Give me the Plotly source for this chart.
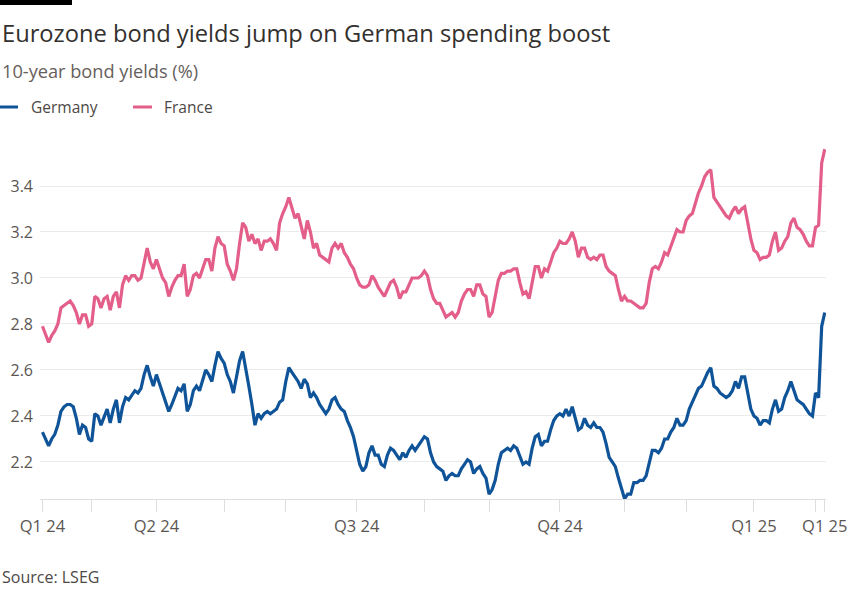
import pandas as pd
import plotly.graph_objects as go

# ---- data ------------------------------------------------------------
START = "2024-03-07"
END = "2025-03-06"
HOLIDAYS = ["2024-03-29", "2024-04-01", "2024-05-01",
            "2024-12-25", "2024-12-26", "2025-01-01"]

germany = [
    2.33, 2.30, 2.27, 2.30, 2.32, 2.36, 2.42, 2.44, 2.45, 2.45,
    2.44, 2.39, 2.32, 2.36, 2.35, 2.30, 2.29, 2.41, 2.40, 2.36,
    2.40, 2.43, 2.37, 2.43, 2.47, 2.37, 2.44, 2.48, 2.47, 2.49,
    2.51, 2.50, 2.52, 2.58, 2.62, 2.57, 2.53, 2.58, 2.54, 2.50,
    2.46, 2.42, 2.45, 2.49, 2.52, 2.51, 2.54, 2.42, 2.45, 2.51,
    2.53, 2.51, 2.55, 2.60, 2.58, 2.55, 2.62, 2.68, 2.65, 2.63,
    2.58, 2.55, 2.50, 2.57, 2.64, 2.68, 2.61, 2.53, 2.45, 2.36,
    2.41, 2.39, 2.41, 2.42, 2.41, 2.42, 2.43, 2.46, 2.47, 2.55,
    2.61, 2.59, 2.57, 2.55, 2.52, 2.56, 2.54, 2.48, 2.50, 2.48,
    2.45, 2.43, 2.41, 2.43, 2.47, 2.48, 2.45, 2.43, 2.42, 2.38,
    2.35, 2.31, 2.25, 2.19, 2.16, 2.18, 2.24, 2.27, 2.23, 2.23,
    2.19, 2.18, 2.23, 2.26, 2.25, 2.23, 2.21, 2.24, 2.22, 2.25,
    2.27, 2.25, 2.27, 2.29, 2.31, 2.30, 2.24, 2.20, 2.18, 2.17,
    2.16, 2.12, 2.14, 2.15, 2.14, 2.14, 2.17, 2.19, 2.21, 2.20,
    2.15, 2.17, 2.18, 2.15, 2.13, 2.06, 2.08, 2.12, 2.19, 2.24,
    2.25, 2.26, 2.25, 2.27, 2.26, 2.22, 2.19, 2.20, 2.19, 2.26,
    2.31, 2.32, 2.27, 2.29, 2.29, 2.34, 2.38, 2.40, 2.41, 2.40,
    2.43, 2.40, 2.44, 2.39, 2.34, 2.35, 2.39, 2.36, 2.35, 2.37,
    2.35, 2.35, 2.33, 2.28, 2.22, 2.20, 2.18, 2.13, 2.08, 2.04,
    2.06, 2.06, 2.11, 2.11, 2.12, 2.12, 2.14, 2.19, 2.25, 2.25,
    2.24, 2.26, 2.30, 2.30, 2.33, 2.35, 2.39, 2.36, 2.36, 2.38,
    2.43, 2.46, 2.49, 2.52, 2.53, 2.56, 2.59, 2.61, 2.53, 2.52,
    2.50, 2.49, 2.48, 2.49, 2.51, 2.55, 2.52, 2.57, 2.57, 2.50,
    2.43, 2.40, 2.39, 2.36, 2.38, 2.38, 2.37, 2.43, 2.47, 2.42,
    2.43, 2.48, 2.51, 2.55, 2.51, 2.47, 2.46, 2.45, 2.43, 2.41,
    2.40, 2.50, 2.48, 2.79, 2.85,
]

france = [
    2.79, 2.75, 2.72, 2.75, 2.77, 2.80, 2.87, 2.88, 2.89, 2.90,
    2.88, 2.85, 2.80, 2.84, 2.84, 2.79, 2.80, 2.92, 2.91, 2.87,
    2.91, 2.92, 2.86, 2.92, 2.94, 2.87, 2.97, 3.01, 2.99, 3.01,
    3.01, 2.99, 3.00, 3.07, 3.13, 3.07, 3.04, 3.08, 3.04, 3.00,
    2.98, 2.92, 2.96, 2.99, 3.01, 3.01, 3.06, 2.92, 2.95, 3.01,
    3.02, 3.00, 3.04, 3.08, 3.08, 3.03, 3.13, 3.18, 3.15, 3.14,
    3.06, 3.03, 2.99, 3.04, 3.15, 3.24, 3.22, 3.16, 3.19, 3.15,
    3.17, 3.12, 3.16, 3.16, 3.17, 3.15, 3.12, 3.24, 3.28, 3.31,
    3.35, 3.30, 3.26, 3.28, 3.22, 3.17, 3.25, 3.20, 3.13, 3.15,
    3.10, 3.09, 3.08, 3.07, 3.13, 3.15, 3.13, 3.15, 3.11, 3.09,
    3.06, 3.04, 3.00, 2.97, 2.96, 2.96, 2.97, 3.01, 2.99, 2.96,
    2.94, 2.92, 2.95, 2.98, 2.99, 2.96, 2.91, 2.94, 2.94, 2.97,
    3.00, 3.00, 3.00, 3.01, 3.03, 3.01, 2.95, 2.91, 2.89, 2.89,
    2.86, 2.83, 2.84, 2.85, 2.83, 2.85, 2.90, 2.93, 2.95, 2.95,
    2.92, 2.97, 2.97, 2.93, 2.92, 2.83, 2.85, 2.93, 2.99, 3.02,
    3.02, 3.03, 3.03, 3.04, 3.04, 2.98, 2.93, 2.94, 2.91, 2.98,
    3.05, 3.05, 3.00, 3.04, 3.03, 3.07, 3.11, 3.13, 3.16, 3.15,
    3.15, 3.17, 3.20, 3.16, 3.09, 3.13, 3.13, 3.09, 3.08, 3.09,
    3.08, 3.10, 3.10, 3.05, 3.03, 3.02, 3.01, 2.95, 2.90, 2.92,
    2.90, 2.90, 2.89, 2.88, 2.87, 2.87, 2.89, 2.98, 3.04, 3.05,
    3.04, 3.07, 3.11, 3.10, 3.14, 3.17, 3.21, 3.20, 3.20, 3.25,
    3.27, 3.28, 3.33, 3.37, 3.40, 3.44, 3.46, 3.47, 3.35, 3.33,
    3.31, 3.29, 3.27, 3.26, 3.29, 3.31, 3.28, 3.30, 3.31, 3.24,
    3.17, 3.12, 3.11, 3.08, 3.09, 3.09, 3.10, 3.16, 3.20, 3.12,
    3.13, 3.16, 3.18, 3.24, 3.26, 3.22, 3.21, 3.19, 3.16, 3.14,
    3.14, 3.22, 3.23, 3.50, 3.56,
]

tick_dates = ["2024-03-07", "2024-04-02", "2024-05-02", "2024-06-03",
              "2024-07-01", "2024-08-01", "2024-09-02", "2024-10-01",
              "2024-11-01", "2024-12-02", "2025-01-02", "2025-02-03",
              "2025-03-03", "2025-03-06"]
tick_labels = ["Q1 24", "", "Q2 24", "", "", "Q3 24", "", "",
               "Q4 24", "", "", "Q1 25", "", "Q1 25"]

y_ticks = [2.2, 2.4, 2.6, 2.8, 3.0, 3.2, 3.4]

dates = pd.bdate_range(START, END, freq="C", holidays=HOLIDAYS).strftime("%Y-%m-%d").tolist()
if not (len(dates) == len(germany) == len(france)):
    raise ValueError(f"length mismatch {len(dates)} {len(germany)} {len(france)}")

# ---- style -----------------------------------------------------------
BLUE = "#0f5499"
PINK = "#e35e89"
FONT = "Open Sans"
W, H = 850, 608
L, R, T, B = 40, 24, 140, 109
PW, PH = W - L - R, H - T - B


def px(x):
    return (x - L) / PW


def py(y):
    return (H - B - y) / PH


fig = go.Figure()
fig.add_trace(go.Scatter(x=dates, y=germany, mode="lines", name="Germany",
                         line=dict(color=BLUE, width=3.2), showlegend=False))
fig.add_trace(go.Scatter(x=dates, y=france, mode="lines", name="France",
                         line=dict(color=PINK, width=3.2), showlegend=False))

fig.update_layout(
    width=W, height=H,
    margin=dict(l=L, r=R, t=T, b=B),
    paper_bgcolor="white", plot_bgcolor="white",
    font=dict(family=FONT, color="#5b5652", size=15),
)
fig.update_xaxes(
    type="category", range=[-0.8, len(dates) - 0.6],
    tickmode="array", tickvals=tick_dates, ticktext=tick_labels,
    showgrid=False, showline=True, linecolor="#dedede", linewidth=1,
    ticks="outside", ticklen=12, tickcolor="#dedede", tickwidth=1,
    tickfont=dict(size=16.5, color="#5b5652", family=FONT),
    automargin=False,
)
fig.update_yaxes(
    range=[2.039, 3.600], tickmode="array", tickvals=y_ticks,
    ticktext=[f"{v:.1f}" for v in y_ticks],
    showgrid=True, gridcolor="#ebebeb", gridwidth=1, zeroline=False,
    showline=False, ticks="", ticklabelstandoff=6,
    tickfont=dict(size=16, color="#5b5652", family=FONT),
    automargin=False,
)

# header bar
fig.add_shape(type="rect", xref="paper", yref="paper",
              x0=px(0), x1=px(72), y0=py(5), y1=py(-2),
              fillcolor="black", line=dict(width=0))

annos = [
    dict(text="Eurozone bond yields jump on German spending boost",
         x=px(0), y=py(33), size=23.7, color="#33302e"),
    dict(text="10-year bond yields (%)", x=px(0), y=py(71), size=18.2, color="#66605c"),
    dict(text="Germany", x=px(29), y=py(107), size=15.5, color="#4d4845"),
    dict(text="France", x=px(162), y=py(107), size=15.5, color="#4d4845"),
    dict(text="Source: LSEG", x=px(0), y=py(577), size=16, color="#4d4845"),
]
for a in annos:
    fig.add_annotation(text=a["text"], xref="paper", yref="paper", x=a["x"], y=a["y"],
                       xanchor="left", yanchor="middle", showarrow=False,
                       font=dict(family=FONT, size=a["size"], color=a["color"]))

for x0, x1, c in [(0, 18, BLUE), (133, 152, PINK)]:
    fig.add_shape(type="line", xref="paper", yref="paper",
                  x0=px(x0), x1=px(x1), y0=py(107), y1=py(107),
                  line=dict(color=c, width=3))

fig.write_html("out.html", config={"displayModeBar": False},
               post_script="document.body.style.margin='0';document.body.style.overflow='hidden';")
